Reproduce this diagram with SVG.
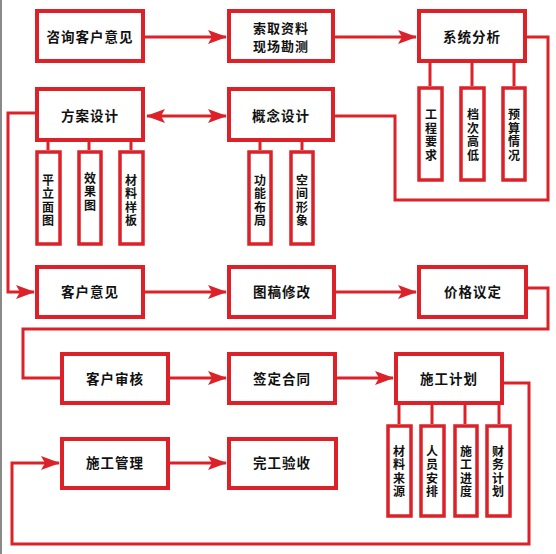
<svg xmlns="http://www.w3.org/2000/svg" width="556" height="554" viewBox="0 0 556 554">
<style>
.box{fill:#fff;stroke:#dc2228;stroke-width:4}
.sub{fill:#fff;stroke:#dc2228;stroke-width:3.5}
.ln{fill:none;stroke:#dc2228;stroke-width:3}
.t{font-family:"Noto Sans CJK SC","Noto Sans",sans-serif;font-weight:bold;font-size:13.5px;fill:#111;text-anchor:middle;letter-spacing:1px}
.v{font-family:"Noto Sans CJK SC","Noto Sans",sans-serif;font-weight:bold;font-size:12px;fill:#111;writing-mode:vertical-rl;text-orientation:upright;letter-spacing:1.5px;text-anchor:start}
</style>
<defs>
<marker id="ah" markerUnits="userSpaceOnUse" markerWidth="19" markerHeight="14" viewBox="0 0 19 14" refX="18" refY="7" orient="auto-start-reverse">
<path d="M0,0 L19,7 L0,14 L4,7 z" fill="#dc2228"/>
</marker>
</defs>
<rect width="556" height="554" fill="#fff"/>
<line x1="1" y1="0" x2="1" y2="554" stroke="#8a8a8a" stroke-width="2"/>

<g id="connectors">
<line class="ln" x1="145" y1="37" x2="226" y2="37" marker-end="url(#ah)"/>
<line class="ln" x1="335" y1="37" x2="416" y2="37" marker-end="url(#ah)"/>
<polyline class="ln" points="527,37 548,37 548,200 395,200 395,116 335,116"/>
<line class="ln" x1="430" y1="63" x2="430" y2="86"/>
<line class="ln" x1="472" y1="63" x2="472" y2="86"/>
<line class="ln" x1="514" y1="63" x2="514" y2="86"/>
<line class="ln" x1="147" y1="116" x2="226" y2="116" marker-start="url(#ah)" marker-end="url(#ah)"/>
<line class="ln" x1="48" y1="142" x2="48" y2="150"/>
<line class="ln" x1="89" y1="142" x2="89" y2="150"/>
<line class="ln" x1="131" y1="142" x2="131" y2="150"/>
<line class="ln" x1="260" y1="142" x2="260" y2="150"/>
<line class="ln" x1="302" y1="142" x2="302" y2="150"/>
<polyline class="ln" points="35,113 8,113 8,292 34,292" marker-end="url(#ah)"/>
<line class="ln" x1="145" y1="292" x2="226" y2="292" marker-end="url(#ah)"/>
<line class="ln" x1="336" y1="292" x2="416" y2="292" marker-end="url(#ah)"/>
<polyline class="ln" points="528,288 548,288 548,329 23,329 23,378 60,378"/>
<line class="ln" x1="170" y1="378" x2="226" y2="378" marker-end="url(#ah)"/>
<line class="ln" x1="337" y1="378" x2="393" y2="378" marker-end="url(#ah)"/>
<line class="ln" x1="399" y1="405" x2="399" y2="424"/>
<line class="ln" x1="432" y1="405" x2="432" y2="424"/>
<line class="ln" x1="465" y1="405" x2="465" y2="424"/>
<line class="ln" x1="499" y1="405" x2="499" y2="424"/>
<polyline class="ln" points="504,383 529,383 529,544 12,544 12,463 59,463" marker-end="url(#ah)"/>
<line class="ln" x1="170" y1="463" x2="226" y2="463" marker-end="url(#ah)"/>
</g>

<g id="n1"><rect class="box" x="37" y="11" width="106" height="50"/><text class="t" x="90" y="42">咨询客户意见</text></g>
<g id="n2"><rect class="box" x="229" y="11" width="104" height="50"/><text class="t" style="font-size:13px"><tspan x="281" y="33">索取资料</tspan><tspan x="281" y="51">现场勘测</tspan></text></g>
<g id="n3"><rect class="box" x="419" y="11" width="106" height="50"/><text class="t" x="472" y="42">系统分析</text></g>
<g id="s1"><rect class="sub" x="419" y="88" width="23" height="92"/><text class="v" x="431" y="108.5">工程要求</text></g>
<g id="s2"><rect class="sub" x="461" y="88" width="23" height="92"/><text class="v" x="473" y="108.5">档次高低</text></g>
<g id="s3"><rect class="sub" x="503" y="88" width="22" height="92"/><text class="v" x="514" y="108.5">预算情况</text></g>

<g id="n4"><rect class="box" x="37" y="89" width="106" height="51"/><text class="t" x="90" y="121">方案设计</text></g>
<g id="n5"><rect class="box" x="229" y="89" width="104" height="51"/><text class="t" x="281" y="121">概念设计</text></g>
<g id="s4"><rect class="sub" x="37" y="152" width="23" height="92"/><text class="v" x="48" y="174">平立面图</text></g>
<g id="s5"><rect class="sub" x="79" y="152" width="22" height="92"/><text class="v" x="90" y="172">效果图</text></g>
<g id="s6"><rect class="sub" x="120" y="152" width="23" height="92"/><text class="v" x="131" y="174">材料样板</text></g>
<g id="s7"><rect class="sub" x="249" y="152" width="22" height="92"/><text class="v" x="260" y="174">功能布局</text></g>
<g id="s8"><rect class="sub" x="291" y="152" width="22" height="92"/><text class="v" x="302" y="174">空间形象</text></g>

<g id="n6"><rect class="box" x="37" y="267" width="106" height="50"/><text class="t" x="90" y="297">客户意见</text></g>
<g id="n7"><rect class="box" x="229" y="267" width="105" height="50"/><text class="t" x="282" y="297">图稿修改</text></g>
<g id="n8"><rect class="box" x="419" y="267" width="107" height="50"/><text class="t" x="473" y="297">价格议定</text></g>

<g id="n9"><rect class="box" x="62" y="354" width="106" height="49"/><text class="t" x="115" y="384">客户审核</text></g>
<g id="n10"><rect class="box" x="229" y="354" width="106" height="49"/><text class="t" x="282" y="384">签定合同</text></g>
<g id="n11"><rect class="box" x="396" y="354" width="106" height="49"/><text class="t" x="449" y="384">施工计划</text></g>
<g id="s9"><rect class="sub" x="388" y="426" width="23" height="90"/><text class="v" x="399" y="445">材料来源</text></g>
<g id="s10"><rect class="sub" x="421" y="426" width="23" height="90"/><text class="v" x="432" y="445">人员安排</text></g>
<g id="s11"><rect class="sub" x="455" y="426" width="22" height="90"/><text class="v" x="466" y="445">施工进度</text></g>
<g id="s12"><rect class="sub" x="487" y="426" width="23" height="90"/><text class="v" x="498" y="445">财务计划</text></g>

<g id="n12"><rect class="box" x="62" y="439" width="106" height="49"/><text class="t" x="115" y="468">施工管理</text></g>
<g id="n13"><rect class="box" x="229" y="439" width="107" height="49"/><text class="t" x="282" y="468">完工验收</text></g>
</svg>
